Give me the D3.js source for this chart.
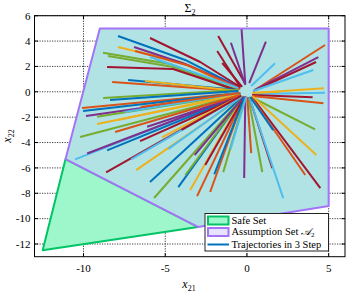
<!DOCTYPE html>
<html><head><meta charset="utf-8">
<script src="https://cdn.jsdelivr.net/npm/d3@7"></script>
<style>html,body{margin:0;padding:0;background:#fff;}svg{display:block;}</style>
</head><body>
<svg id="c" width="346" height="291"></svg>
<script>
// ---- data ----
const xDomain = [-13, 6];
const yDomain = [-13, 6];
const xTicks = [-10, -5, 0, 5];
const yTicks = [-12, -10, -8, -6, -4, -2, 0, 2, 4, 6];
const safeSet = [[-11.1, -5.3], [-12.5, -12.5], [-3.0, -10.65]];
const assumptionSet = [[-9, 5], [5, 5], [5, -9], [-3.0, -10.65], [-11.1, -5.3]];
const legendLabels = ["Safe Set", "Assumption Set ", "Trajectories in 3 Step"];
// series (colour-cycle index) of each trajectory
const trajSeries = [0,2,3,1,4,4,5,6,1,0,2,6,6,6,3,3,3,5,6,
  1,3,6,5,2,5,6,1,2,4,
  3,4,6,5,6,2,1,0,1,
  0,2,1,1,4,5,3,0,6,5,2,0,4,1,0,3,4,4,0,2,4,2,5,3,6,1,4,6,5,3,0,2,6,1,5];
const trajPoints = [
  [[-7.89,4.40],[-3.78,2.51],[-0.41,0.30]],
  [[-7.89,3.53],[-4.09,2.35],[-0.53,0.22]],
  [[-6.91,3.53],[-3.78,2.19],[-0.53,0.38]],
  [[-6.84,3.22],[-3.47,2.03],[-0.41,0.22]],
  [[-8.81,3.08],[-4.70,2.19],[-0.66,0.14]],
  [[-8.50,2.82],[-4.50,1.95],[-0.66,0.06]],
  [[-5.93,2.74],[-0.53,0.30]],
  [[-8.56,1.96],[-4.52,1.80],[-0.66,0.14]],
  [[-8.25,0.77],[-0.53,0.06]],
  [[-7.27,0.93],[-0.53,0.14]],
  [[-6.23,0.85],[-0.53,0.06]],
  [[-5.93,4.24],[-2.86,2.35],[-0.41,0.38]],
  [[-1.76,4.40],[-0.12,0.67]],
  [[-1.82,3.22],[-0.41,0.38]],
  [[-0.98,3.87],[-0.10,0.54]],
  [[-0.33,4.93],[-0.10,0.62]],
  [[1.16,3.95],[0.14,0.69]],
  [[1.72,2.25],[0.26,0.46]],
  [[-1.51,2.27],[-0.29,0.38]],
  [[4.78,3.69],[0.49,0.14]],
  [[4.37,2.74],[0.45,0.14]],
  [[4.23,2.35],[0.39,0.06]],
  [[4.06,1.72],[0.39,0.06]],
  [[4.72,0.28],[0.39,-0.09]],
  [[4.78,-0.07],[0.32,-0.17]],
  [[4.02,-0.43],[0.32,-0.25]],
  [[4.68,-0.91],[0.32,-0.33]],
  [[2.02,0.01],[0.32,-0.09]],
  [[4.17,-2.96],[0.26,-0.41]],
  [[-0.17,-6.80],[-0.10,-0.33]],
  [[0.94,-6.33],[0.08,-0.41]],
  [[1.55,-6.02],[0.14,-0.41]],
  [[2.22,-8.38],[0.14,-0.41]],
  [[4.49,-7.59],[0.32,-0.41]],
  [[4.25,-4.98],[0.32,-0.33]],
  [[3.57,-6.56],[0.26,-0.41]],
  [[1.61,-3.02],[0.20,-0.41]],
  [[0.26,-4.83],[0.02,-0.41]],
  [[-4.20,-7.51],[-0.23,-0.41]],
  [[-3.47,-7.74],[-0.23,-0.41]],
  [[-3.05,-8.22],[-0.17,-0.41]],
  [[-2.25,-7.90],[-0.17,-0.41]],
  [[-1.45,-6.33],[-0.10,-0.41]],
  [[-10.52,-5.33],[-0.41,-0.25]],
  [[-9.78,-4.86],[-0.41,-0.25]],
  [[-8.56,-4.62],[-0.41,-0.33]],
  [[-8.62,-6.35],[-0.35,-0.33]],
  [[-7.09,-5.33],[-0.35,-0.33]],
  [[-6.78,-6.17],[-0.29,-0.41]],
  [[-5.93,-7.11],[-0.29,-0.41]],
  [[-5.68,-8.37],[-0.23,-0.41]],
  [[-10.09,-1.28],[-0.41,-0.09]],
  [[-10.03,-1.51],[-0.41,-0.09]],
  [[-9.85,-1.90],[-0.41,-0.17]],
  [[-9.17,-1.97],[-0.41,-0.17]],
  [[-8.80,-0.49],[-0.53,0.14]],
  [[-8.38,-0.65],[-0.53,0.06]],
  [[-9.17,-2.54],[-0.41,-0.25]],
  [[-10.21,-3.57],[-0.41,-0.25]],
  [[-7.89,-2.23],[-0.47,-0.17]],
  [[-7.46,-1.60],[-0.47,-0.09]],
  [[-6.11,-2.75],[-0.41,-0.33]],
  [[-6.54,-3.89],[-0.35,-0.33]],
  [[-8.07,-3.17],[-0.41,-0.25]],
  [[-3.77,-6.56],[-0.23,-0.41]],
  [[-2.55,-5.77],[-0.17,-0.41]],
  [[-4.80,-4.50],[-0.30,-0.35]],
  [[-3.20,-5.00],[-0.20,-0.40]],
  [[-2.00,-6.50],[-0.15,-0.40]],
  [[-5.20,-3.60],[-0.35,-0.30]],
  [[-4.00,-3.00],[-0.35,-0.30]],
  [[-6.50,-1.20],[-0.45,-0.10]],
  [[-1.00,-4.50],[-0.05,-0.40]]
];

// ---- drawing ----
const palette = ["#0072BD","#D95319","#EDB120","#7E2F8E","#77AC30","#4DBEEE","#A2142F"];
const L = 34.5, R = 345, T = 15.7, B = 256.7;
const x = d3.scaleLinear().domain(xDomain).range([L, R]);
const y = d3.scaleLinear().domain(yDomain).range([B, T]);
const svg = d3.select("#c");
const font = "'Liberation Serif', 'DejaVu Serif', serif";

// grid
const grid = svg.append("g").attr("stroke", "#000").attr("stroke-width", 0.9)
  .attr("stroke-dasharray", "1.2,1.3").attr("opacity", 0.85);
grid.selectAll("line.gx").data(xTicks).join("line")
  .attr("x1", d => x(d)).attr("x2", d => x(d)).attr("y1", T).attr("y2", B);
grid.selectAll("line.gy").data(yTicks).join("line")
  .attr("y1", d => y(d)).attr("y2", d => y(d)).attr("x1", L).attr("x2", R);

const line = d3.line().x(d => x(d[0])).y(d => y(d[1]));
// safe set
svg.append("path").datum(safeSet).attr("d", d => line(d) + "Z")
  .attr("fill", "#9ef7cb").attr("stroke", "#00c466").attr("stroke-width", 2).attr("stroke-linejoin", "round");
// assumption set
svg.append("path").datum(assumptionSet).attr("d", d => line(d) + "Z")
  .attr("fill", "#b2e3e4").attr("stroke", "#a473f7").attr("stroke-width", 2).attr("stroke-linejoin", "round");

// trajectories
svg.append("g").selectAll("path").data(trajPoints).join("path")
  .attr("d", d => line(d)).attr("fill", "none")
  .attr("stroke", (d, i) => palette[trajSeries[i]]).attr("stroke-width", 2)
  .attr("stroke-linecap", "butt").attr("stroke-linejoin", "round");

// box & ticks
svg.append("rect").attr("x", L).attr("y", T).attr("width", R - L).attr("height", B - T)
  .attr("fill", "none").attr("stroke", "#000").attr("stroke-width", 1);
const tk = svg.append("g").attr("stroke", "#000").attr("stroke-width", 1);
xTicks.forEach(v => {
  tk.append("line").attr("x1", x(v)).attr("x2", x(v)).attr("y1", B).attr("y2", B - 3.5);
  tk.append("line").attr("x1", x(v)).attr("x2", x(v)).attr("y1", T).attr("y2", T + 3.5);
});
yTicks.forEach(v => {
  tk.append("line").attr("y1", y(v)).attr("y2", y(v)).attr("x1", L).attr("x2", L + 3.5);
  tk.append("line").attr("y1", y(v)).attr("y2", y(v)).attr("x1", R).attr("x2", R - 3.5);
});

// tick labels
svg.append("g").selectAll("text").data(xTicks).join("text")
  .attr("x", d => x(d)).attr("y", 272).attr("text-anchor", "middle")
  .attr("font-family", font).attr("font-size", 11).text(d => d);
svg.append("g").selectAll("text").data(yTicks).join("text")
  .attr("x", 30.5).attr("y", d => y(d) + 3.8).attr("text-anchor", "end")
  .attr("font-family", font).attr("font-size", 11).text(d => d);

// title
const title = svg.append("text").attr("x", 190).attr("y", 12).attr("text-anchor", "middle")
  .attr("font-family", font).attr("font-size", 12);
title.append("tspan").text("Σ");
title.append("tspan").attr("font-size", 8).attr("dy", 2.5).text("2");

// axis labels
const xl = svg.append("text").attr("x", 189).attr("y", 288).attr("text-anchor", "middle")
  .attr("font-family", font).attr("font-size", 12);
xl.append("tspan").attr("font-style", "italic").text("x");
xl.append("tspan").attr("font-size", 8).attr("dy", 2.5).text("21");
const yl = svg.append("text").attr("transform", "translate(11,136) rotate(-90)").attr("text-anchor", "middle")
  .attr("font-family", font).attr("font-size", 12);
yl.append("tspan").attr("font-style", "italic").text("x");
yl.append("tspan").attr("font-size", 8).attr("dy", 2.5).text("22");

// legend
const lg = svg.append("g");
lg.append("rect").attr("x", 205).attr("y", 213.5).attr("width", 123.5).attr("height", 37.5)
  .attr("fill", "#fff").attr("stroke", "#222").attr("stroke-width", 1);
lg.append("rect").attr("x", 208).attr("y", 216.5).attr("width", 20.5).attr("height", 8)
  .attr("fill", "#9ef7cb").attr("stroke", "#00c466").attr("stroke-width", 2);
lg.append("rect").attr("x", 208).attr("y", 228).attr("width", 20.5).attr("height", 8)
  .attr("fill", "#e6e3fd").attr("stroke", "#a473f7").attr("stroke-width", 2);
lg.append("line").attr("x1", 207.5).attr("x2", 229).attr("y1", 244.5).attr("y2", 244.5)
  .attr("stroke", palette[0]).attr("stroke-width", 2);
const ly = [223.8, 235.3, 247.8];
legendLabels.forEach((t, i) => {
  const tx = lg.append("text").attr("x", 231.5).attr("y", ly[i]).attr("font-family", font).attr("font-size", 10.5).text(t);
  if (i === 1) {
    tx.append("tspan").attr("font-style", "italic").text("\u{1D49C}");
    tx.append("tspan").attr("font-size", 7).attr("dy", 2).text("2");
  }
});
</script>
</body></html>
